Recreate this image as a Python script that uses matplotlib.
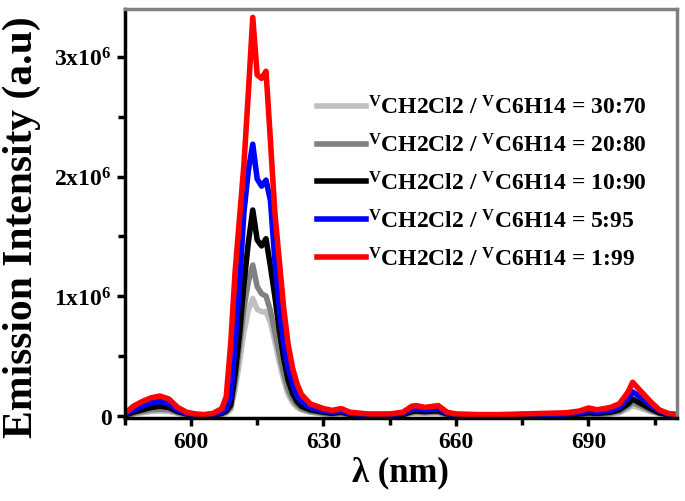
import matplotlib
matplotlib.use("Agg")
import matplotlib.pyplot as plt
from matplotlib.ticker import FixedLocator

# ----------------------------------------------------------------------
# Data (intensities in units of 1e6)
# ----------------------------------------------------------------------

wavelength = [585, 587, 589, 591, 593, 595, 597, 599, 601, 603, 605, 607, 608, 609,
              610, 611, 612, 613, 614, 615, 616, 617, 618, 619, 620, 621, 622, 623,
              624, 625, 627, 630, 632, 634, 636, 640, 645, 648, 650, 651, 653, 655,
              656, 658, 660, 665, 670, 675, 680, 685, 688, 690, 692, 695, 697, 699,
              700, 702, 704, 706, 708, 710]

i_30_70 = [0.0, 0.015, 0.025, 0.035, 0.04, 0.035, 0.02, 0.005, 0.0, 0.0, 0.0, 0.01, 0.02, 0.05,
           0.22, 0.45, 0.70, 0.88, 0.98, 0.89, 0.87, 0.87, 0.78, 0.62, 0.45, 0.30, 0.18, 0.11,
           0.07, 0.05, 0.03, 0.015, 0.01, 0.015, 0.005, 0.0, 0.0, 0.005, 0.02, 0.02, 0.02, 0.02,
           0.02, 0.005, 0.0, 0.0, 0.0, 0.0, 0.0, 0.0, 0.005, 0.01, 0.008, 0.015, 0.025, 0.06,
           0.085, 0.06, 0.035, 0.015, 0.005, 0.0]

i_20_80 = [0.0, 0.02, 0.035, 0.05, 0.055, 0.05, 0.025, 0.01, 0.0, 0.0, 0.0, 0.015, 0.03, 0.07,
           0.28, 0.58, 0.90, 1.12, 1.26, 1.08, 1.02, 1.00, 0.88, 0.70, 0.52, 0.35, 0.22, 0.14,
           0.09, 0.06, 0.035, 0.02, 0.015, 0.02, 0.008, 0.0, 0.0, 0.008, 0.025, 0.03, 0.025, 0.03,
           0.03, 0.01, 0.0, 0.0, 0.0, 0.0, 0.0, 0.005, 0.01, 0.015, 0.012, 0.02, 0.035, 0.08,
           0.11, 0.08, 0.045, 0.02, 0.005, 0.0]

i_10_90 = [0.005, 0.03, 0.05, 0.07, 0.08, 0.07, 0.035, 0.015, 0.005, 0.0, 0.005, 0.02, 0.04, 0.09,
           0.35, 0.68, 1.10, 1.45, 1.72, 1.47, 1.42, 1.48, 1.25, 1.00, 0.72, 0.48, 0.30, 0.19,
           0.12, 0.08, 0.05, 0.03, 0.02, 0.03, 0.012, 0.005, 0.005, 0.01, 0.035, 0.04, 0.035, 0.04,
           0.04, 0.015, 0.005, 0.0, 0.0, 0.005, 0.005, 0.01, 0.015, 0.025, 0.02, 0.03, 0.05, 0.10,
           0.14, 0.10, 0.06, 0.025, 0.01, 0.005]

i_5_95 = [0.01, 0.05, 0.08, 0.11, 0.12, 0.10, 0.05, 0.02, 0.01, 0.005, 0.01, 0.03, 0.06, 0.16,
          0.60, 1.10, 1.70, 2.05, 2.27, 1.98, 1.92, 1.97, 1.80, 1.30, 0.90, 0.60, 0.40, 0.27,
          0.17, 0.12, 0.07, 0.04, 0.03, 0.04, 0.02, 0.01, 0.01, 0.02, 0.055, 0.06, 0.05, 0.055,
          0.06, 0.02, 0.01, 0.005, 0.005, 0.01, 0.01, 0.015, 0.025, 0.04, 0.03, 0.045, 0.07, 0.15,
          0.20, 0.15, 0.09, 0.04, 0.015, 0.01]

i_1_99 = [0.02, 0.08, 0.12, 0.15, 0.165, 0.14, 0.07, 0.03, 0.015, 0.01, 0.02, 0.06, 0.16, 0.60,
          1.20, 1.65, 2.10, 2.70, 3.33, 2.85, 2.82, 2.88, 2.30, 1.70, 1.30, 0.90, 0.60, 0.40,
          0.27, 0.18, 0.10, 0.06, 0.045, 0.06, 0.03, 0.015, 0.015, 0.03, 0.08, 0.085, 0.07, 0.08,
          0.085, 0.03, 0.015, 0.01, 0.01, 0.015, 0.02, 0.025, 0.04, 0.065, 0.05, 0.07, 0.10, 0.20,
          0.28, 0.20, 0.12, 0.05, 0.02, 0.01]

ratios = ["30:70", "20:80", "10:90", "5:95", "1:99"]
series = [i_30_70, i_20_80, i_10_90, i_5_95, i_1_99]
colors = ["#c0c0c0", "#808080", "#000000", "#0000ff", "#ff0000"]

# ----------------------------------------------------------------------
# Style
# ----------------------------------------------------------------------

plt.rcParams["font.family"] = ["Liberation Serif", "DejaVu Serif"]
plt.rcParams["font.weight"] = "bold"
plt.rcParams["mathtext.fontset"] = "custom"
plt.rcParams["mathtext.rm"] = "Liberation Serif:bold"
plt.rcParams["mathtext.bf"] = "Liberation Serif:bold"
plt.rcParams["mathtext.it"] = "Liberation Serif:bold"

fig = plt.figure(figsize=(6.85, 5.02), dpi=100)
ax = fig.add_axes([0.182, 0.165, 0.806, 0.815])

for r, ys, c in zip(ratios, series, colors):
    label = r"$^{\mathbf{V}}$CH2Cl2 / $^{\mathbf{V}}$C6H14 = " + r
    ax.plot(wavelength, [v * 1e6 for v in ys], color=c, lw=4, label=label,
            solid_joinstyle="round")

ax.set_xlim(585, 710)
ax.set_ylim(-0.02e6, 3.4e6)

ax.xaxis.set_major_locator(FixedLocator([600, 630, 660, 690]))
ax.xaxis.set_minor_locator(FixedLocator([585, 615, 645, 675, 705]))
ax.yaxis.set_major_locator(FixedLocator([0, 1e6, 2e6, 3e6]))
ax.yaxis.set_minor_locator(FixedLocator([0.5e6, 1.5e6, 2.5e6]))
ax.set_yticklabels(["0", r"1x10$^{6}$", r"2x10$^{6}$", r"3x10$^{6}$"])
ax.tick_params(axis="both", which="major", length=6, width=2.5, labelsize=17, direction="out")
ax.tick_params(axis="both", which="minor", length=5, width=2.5, direction="out")
ax.tick_params(top=False, right=False, which="both")

for s in ["left", "bottom"]:
    ax.spines[s].set_linewidth(2.5)
    ax.spines[s].set_color("black")
for s in ["top", "right"]:
    ax.spines[s].set_linewidth(2.5)
    ax.spines[s].set_color("#808080")

ax.set_xlabel("λ (nm)", fontsize=25, fontweight="bold", labelpad=2)
ax.set_ylabel("Emission Intensity (a.u)", fontsize=30, fontweight="bold")
ax.yaxis.set_label_coords(-0.152, 0.47)

handles, labels = ax.get_legend_handles_labels()
ax.legend(handles, labels, loc="upper right", bbox_to_anchor=(0.985, 0.84), frameon=False,
          fontsize=17, handlelength=2.1, handletextpad=0.1, labelspacing=0.62)

fig.savefig("out.png", dpi=100)
